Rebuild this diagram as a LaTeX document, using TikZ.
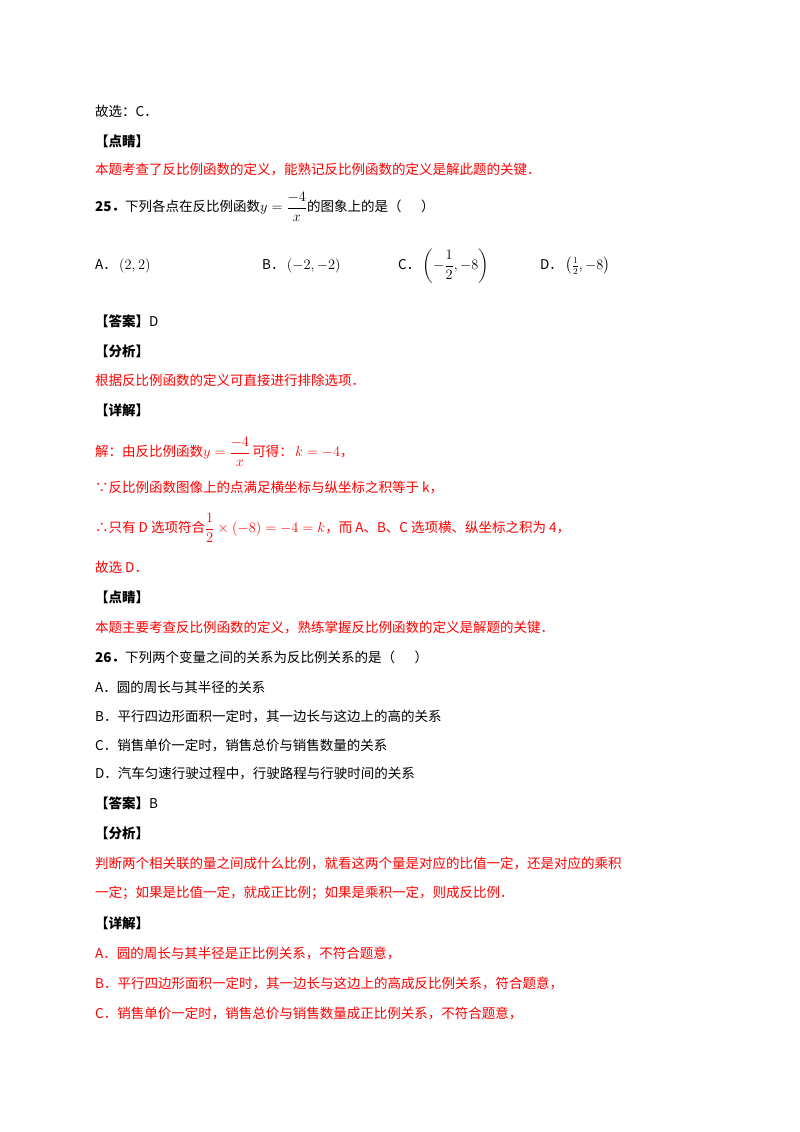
\documentclass[tikz,border=0pt]{standalone}
\usepackage{amsmath}
\usepackage{fontspec}
\setmainfont{Noto Sans CJK SC}
\definecolor{rd}{RGB}{255,0,0}
\newcommand{\mth}[1]{\textrm{\fontspec{Latin Modern Roman}$#1$}}
\begin{document}
\begin{tikzpicture}[x=1pt,y=-1pt,
  t/.style={anchor=west,inner sep=0pt,font=\fontsize{13.5}{16}\selectfont},
  r/.style={t,text=rd}]
\useasboundingbox[fill=white] (0,0) rectangle (800,1132);
\node[t] (l1) at (95,111) {故选：C．};
\node[t] (l2) at (95,141) {\textbf{【点睛】}};
\node[r] (l3) at (95,170) {本题考查了反比例函数的定义，能熟记反比例函数的定义是解此题的关键．};
\node[t] (l4) at (95,207) {\textbf{25．}下列各点在反比例函数\mth{y=\dfrac{-4}{x}}的图象上的是（\quad\ \ ）};
\node[t] (a) at (95,266) {A．\,\mth{(2,2)}};
\node[t] (b) at (262,266) {B．\,\mth{(-2,-2)}};
\node[t] (c) at (398,266) {C．\,\mth{\left(-\dfrac12,-8\right)}};
\node[t] (d) at (540,266) {D．\,\mth{\left(\tfrac12,-8\right)}};
\node[t] (l5) at (95,321) {\textbf{【答案】}D};
\node[t] (l6) at (95,351) {\textbf{【分析】}};
\node[r] (l7) at (95,380) {根据反比例函数的定义可直接进行排除选项．};
\node[t] (l8) at (95,410) {\textbf{【详解】}};
\node[r] (l9) at (95,452) {解：由反比例函数\mth{y=\dfrac{-4}{x}}\,可得：\,\mth{k=-4}，};
\node[r] (l10) at (95,488) {∵反比例函数图像上的点满足横坐标与纵坐标之积等于 k，};
\node[r] (l11) at (95,528) {∴只有 D 选项符合\mth{\dfrac12\times(-8)=-4=k}，而 A、B、C 选项横、纵坐标之积为 4，};
\node[r] (l12) at (95,567) {故选 D．};
\node[t] (l13) at (95,597) {\textbf{【点睛】}};
\node[r] (l14) at (95,627) {本题主要考查反比例函数的定义，熟练掌握反比例函数的定义是解题的关键．};
\node[t] (l15) at (95,657) {\textbf{26．}下列两个变量之间的关系为反比例关系的是（\quad\ \ ）};
\node[t] (l16) at (95,687) {A．圆的周长与其半径的关系};
\node[t] (l17) at (95,716) {B．平行四边形面积一定时，其一边长与这边上的高的关系};
\node[t] (l18) at (95,745) {C．销售单价一定时，销售总价与销售数量的关系};
\node[t] (l19) at (95,774) {D．汽车匀速行驶过程中，行驶路程与行驶时间的关系};
\node[t] (l20) at (95,803) {\textbf{【答案】}B};
\node[t] (l21) at (95,833) {\textbf{【分析】}};
\node[r] (l22) at (95,863) {判断两个相关联的量之间成什么比例，就看这两个量是对应的比值一定，还是对应的乘积};
\node[r] (l23) at (95,893) {一定；如果是比值一定，就成正比例；如果是乘积一定，则成反比例．};
\node[t] (l24) at (95,923) {\textbf{【详解】}};
\node[r] (l25) at (95,953) {A．圆的周长与其半径是正比例关系，不符合题意，};
\node[r] (l26) at (95,983) {B．平行四边形面积一定时，其一边长与这边上的高成反比例关系，符合题意，};
\node[r] (l27) at (95,1013) {C．销售单价一定时，销售总价与销售数量成正比例关系，不符合题意，};
\end{tikzpicture}
\end{document}
